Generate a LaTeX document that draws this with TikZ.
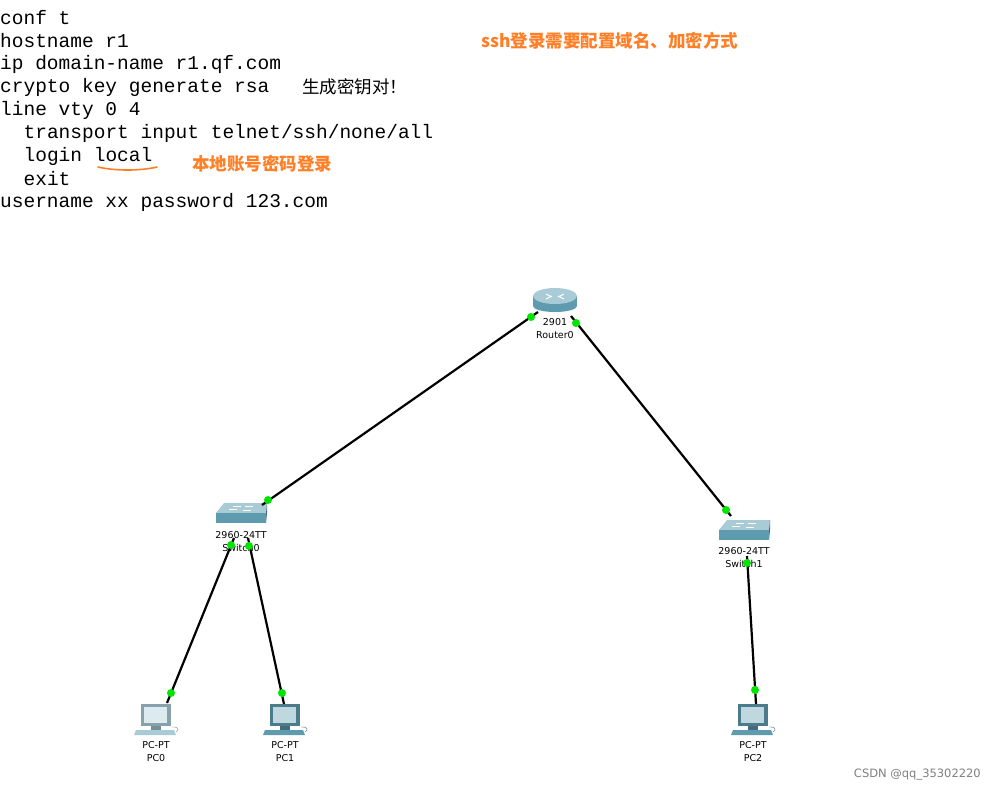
\documentclass[tikz,border=0pt]{standalone}
\usepackage{fontspec}
\setmonofont{Liberation Mono}
\setsansfont{DejaVu Sans}
\newfontfamily\cjk{Noto Sans CJK SC}
\begin{document}
\begin{tikzpicture}[x=1pt,y=-1pt,
 code/.style={anchor=west,inner sep=0,font=\ttfamily\fontsize{19.5}{20}\selectfont},
 note/.style={anchor=west,inner sep=0,font=\cjk\bfseries\fontsize{17.5}{18}\selectfont,text=noteor},
 lbl/.style={inner sep=0,font=\sffamily\fontsize{9.5}{10}\selectfont},
 link/.style={line width=2.2pt,black},
 port/.style={circle,fill=green!90!black,inner sep=0,minimum size=8pt}]
\definecolor{noteor}{HTML}{FF7F27}
\definecolor{dev}{HTML}{5F9BAE}
\definecolor{devl}{HTML}{A9CBD6}
\useasboundingbox (0,0) rectangle (996,793);
\fill[white] (0,0) rectangle (996,793);
% code
\foreach \t [count=\i] in {conf t,hostname r1,ip domain-name r1.qf.com,crypto key generate rsa,line vty 0 4,\ \ transport input telnet/ssh/none/all,\ \ login local,\ \ exit,username xx password 123.com}
  \node[code] (c\i) at (0,{18+23*(\i-1)}) {\t};
\node[note] (n1) at (481,41) {ssh登录需要配置域名、加密方式};
\node[anchor=west,inner sep=0,font=\cjk\fontsize{17.5}{18}\selectfont] (n2) at (302,87) {生成密钥对！};
\node[note] (n3) at (192,164) {本地账号密码登录};
\draw[noteor,line width=1.6pt,line cap=round] (98,167) .. controls (115,171) and (140,171) .. (157,167);
% devices
\newcommand\routericon[1]{%
 \begin{scope}[shift={#1}]
 \fill[dev] (-22,-4) rectangle (22,6);
 \fill[dev] (0,6) ellipse (22 and 6);
 \fill[devl] (0,-4) ellipse (22 and 8);
 \draw[white,line width=1pt] (-9,-6)--(-3,-3) (9,-6)--(3,-3) (-9,-1)--(-3,-4) (9,-1)--(3,-4);
 \end{scope}}
\newcommand\switchicon[1]{%
 \begin{scope}[shift={#1}]
 \fill[devl] (-25,-2) -- (-17,-12) -- (26,-12) -- (25,-2) -- cycle;
 \fill[dev] (-25,-2) rectangle (25,8);
 \fill[dev!70!black] (25,-2) -- (26,-12) -- (26,-2) -- (25,8) -- cycle;
 \draw[white,line width=0.8pt] (-12,-6)--(-4,-6) (4,-9)--(12,-9) (-8,-9)--(0,-9) (2,-5)--(10,-5);
 \end{scope}}
\newcommand\pcicon[2]{%
 \begin{scope}[shift={#1}]
 \fill[#2!80!black] (-15,-14) rectangle (15,8);
 \fill[#2!40!white] (-12,-11) rectangle (11,5);
 \fill[#2!70!black] (-5,8) rectangle (5,12);
 \fill[#2] (-20,12) -- (18,12) -- (20,17) -- (-22,17) -- cycle;
 \draw[#2!70!black] (16,9) .. controls (22,8) and (24,12) .. (20,14);
 \end{scope}}
\routericon{(555,300)}
\switchicon{(241,515)}
\switchicon{(744,532)}
\pcicon{(156,718)}{devl}
\pcicon{(285,718)}{dev}
\pcicon{(753,718)}{dev}
\node[lbl] (r0a) at (555,322) {2901};
\node[lbl] (r0b) at (555,335) {Router0};
\node[lbl] (s0a) at (241,535) {2960-24TT};
\node[lbl] (s0b) at (241,548) {Switch0};
\node[lbl] (s1a) at (744,551) {2960-24TT};
\node[lbl] (s1b) at (744,564) {Switch1};
\foreach \n/\x in {0/156,1/285,2/753}{
 \node[lbl] (pt\n) at (\x,745) {PC-PT};
 \node[lbl] (pc\n) at (\x,758) {PC\n};}
% links
\coordinate (a1) at (538,312); \coordinate (b1) at (262,505);
\coordinate (a2) at (571,316); \coordinate (b2) at (731,516);
\coordinate (a3) at (234,538); \coordinate (b3) at (167,703);
\coordinate (a4) at (248,538); \coordinate (b4) at (284,704);
\coordinate (a5) at (747,556); \coordinate (b5) at (756,704);
\foreach \i in {1,...,5} \draw[link] (a\i) -- (b\i);
\foreach \p in {(531,317),(268,500),(576,323),(726,510),(231,545),(249,546),(171,693),(282,693),(747,563),(755,690)}
  \node[port] at \p {};
\node[anchor=east,inner sep=0,font=\sffamily\fontsize{11.5}{12}\selectfont,text=gray] (wm) at (981,775) {CSDN @qq\_35302220};
\end{tikzpicture}
\end{document}
